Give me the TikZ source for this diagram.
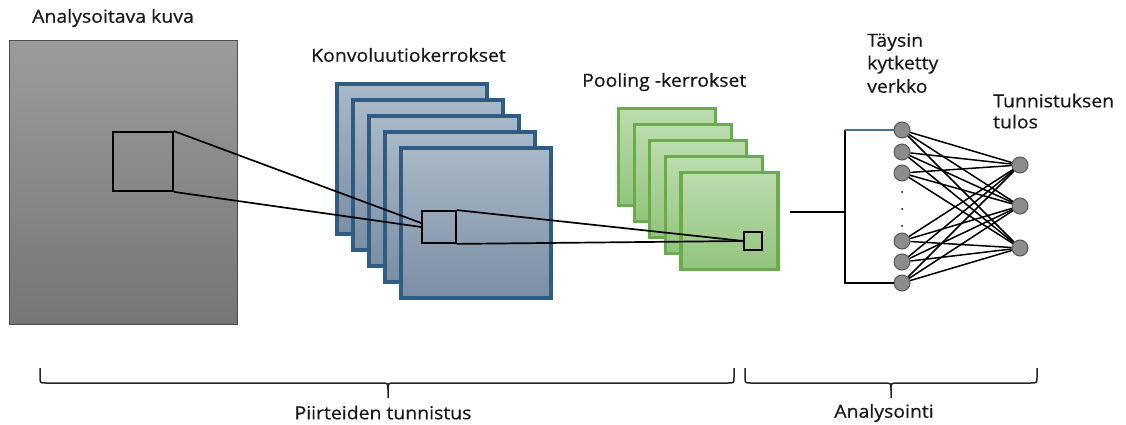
\documentclass[tikz,border=0pt]{standalone}
\usepackage{fontspec}
\setmainfont{Open Sans}[FakeStretch=1.08,FakeBold=0.6]
\begin{document}
\begin{tikzpicture}[x=1pt,y=-1pt,
  lbl/.style={inner sep=0pt,anchor=base west,font=\fontsize{18}{22}\selectfont,text=black!90},
  graybox/.style={draw=black!70,line width=1pt,top color=black!39,bottom color=black!54,minimum width=228pt,minimum height=283pt,inner sep=0pt},
  convbox/.style={draw=convb,line width=3.4pt,top color=convt,bottom color=convbot,minimum width=150pt,minimum height=150pt,inner sep=0pt},
  poolbox/.style={draw=poolb,line width=3.2pt,top color=poolt,bottom color=poolbot,minimum width=97pt,minimum height=97pt,inner sep=0pt},
  win/.style={draw=black,line width=1.8pt,inner sep=0pt},
  link/.style={draw=black,line width=1.7pt},
  nn/.style={circle,draw=black!65,line width=1pt,fill=black!45,minimum size=16pt,inner sep=0pt},
  fc/.style={draw=black,line width=1.5pt},
  bracepath/.style={draw=black!85,line width=1.5pt}
]
\definecolor{convb}{HTML}{2E5C82}
\definecolor{convt}{HTML}{A9B8C8}
\definecolor{convbot}{HTML}{7A8EA3}
\definecolor{poolb}{HTML}{6AAB4C}
\definecolor{poolt}{HTML}{BCDCAE}
\definecolor{poolbot}{HTML}{92C47C}
\definecolor{toplink}{HTML}{4A7090}
\useasboundingbox (0,0) rectangle (1126,425);

% input image
\node[graybox] (img) at (123,182.5) {};
\node[win,minimum width=60pt,minimum height=59pt] (iw) at (143,161.5) {};

% convolution layers
\foreach \k in {0,...,4}{
  \node[convbox] (c\k) at ({412+16*\k},{159+16*\k}) {};
}
\node[win,minimum width=34pt,minimum height=32pt] (cw) at (439,227) {};

% pooling layers
\foreach \k in {0,...,4}{
  \node[poolbox] (p\k) at ({667+15.6*\k},{157+15.9*\k}) {};
}
\node[win,minimum width=18pt,minimum height=18pt] (pw) at (753,241) {};

% projection lines
\draw[link] (iw.north east) -- ([yshift=4pt]cw.west);
\draw[link] (iw.south east) -- (cw.west);
\draw[link] (cw.north east) -- (pw.west);
\draw[link] (cw.south east) -- (pw.west);

% network
\foreach \n/\y in {1/130,2/152,3/173,4/241,5/262,6/283}{
  \node[nn] (h\n) at (902,\y) {};
}
\foreach \n/\y in {1/165,2/206,3/248}{
  \node[nn] (o\n) at (1020,\y) {};
}
\foreach \i in {1,...,6}{
  \foreach \j in {1,2,3}{
    \draw[fc] (h\i) -- (o\j);
  }
}
\foreach \y in {192,209,226}{
  \fill[black] (902,\y) circle (1pt);
}

\coordinate (js) at (790,212);
\coordinate (jm) at (845,212);
\coordinate (jt) at (845,130);
\coordinate (jb) at (845,283);
\draw[link] (js) -- (jm);
\draw[link] (jt) -- (jb) -- (h6);
\draw[draw=toplink,line width=1.4pt] (jt) -- (h1);

% labels
\node[lbl] (t1) at (32,22.7) {Analysoitava kuva};
\node[lbl] (t2) at (311,61.7) {Konvoluutiokerrokset};
\node[lbl] (t3) at (582,86.7) {Pooling -kerrokset};
\node[lbl] (t4a) at (867,46.7) {Täysin};
\node[lbl] (t4b) at (867,69.3) {kytketty};
\node[lbl] (t4c) at (867,92.7) {verkko};
\node[lbl] (t5a) at (993,107.3) {Tunnistuksen};
\node[lbl] (t5b) at (993,128.3) {tulos};

% braces
\draw[bracepath] (40,368) -- (40,377) .. controls (40,383) .. (46,383) -- (381,383) .. controls (388,383) .. (388,390) -- (388,398);
\draw[bracepath] (734,368) -- (734,377) .. controls (734,383) .. (728,383) -- (395,383) .. controls (388,383) .. (388,390);
\draw[bracepath] (745,368) -- (745,377) .. controls (745,383) .. (751,383) -- (884,383) .. controls (891,383) .. (891,390) -- (891,398);
\draw[bracepath] (1037,368) -- (1037,377) .. controls (1037,383) .. (1031,383) -- (898,383) .. controls (891,383) .. (891,390);

\node[lbl,anchor=base] (b1) at (383,419.3) {Piirteiden tunnistus};
\node[lbl,anchor=base] (b2) at (884,417.7) {Analysointi};
\end{tikzpicture}
\end{document}
